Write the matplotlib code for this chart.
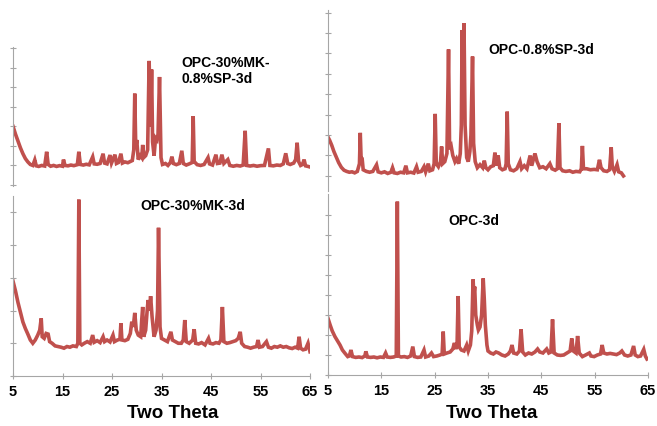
import matplotlib
matplotlib.use('Agg')
import matplotlib.pyplot as plt

plt.rcParams['font.family'] = ['Liberation Sans', 'DejaVu Sans']

# Datos (2 theta, intensidad en unidades arbitrarias)
tl_theta = [5.0, 5.5, 6.0, 6.5, 7.0, 7.5, 8.0, 8.5, 9.0, 9.4, 9.7, 10.2, 10.8, 11.4, 11.8, 12.1,
            12.6, 13.2, 13.8, 14.4, 15.0, 15.2, 15.5, 16.1, 16.7, 17.3, 18.0, 18.3, 18.6, 19.2,
            19.8, 20.4, 21.1, 21.4, 22.0, 22.6, 23.2, 23.5, 24.0, 24.6, 24.9, 25.6, 25.9, 26.3,
            26.8, 27.1, 27.6, 28.2, 28.7, 29.1, 29.4, 29.6, 29.8, 30.0, 30.3, 30.7, 31.0, 31.2,
            31.4, 31.8, 32.2, 32.5, 32.8, 33.0, 33.2, 33.5, 33.8, 34.1, 34.3, 34.6, 34.9, 35.2,
            35.8, 36.3, 36.8, 37.1, 37.4, 38.0, 38.6, 39.1, 39.4, 40.0, 40.6, 41.2, 41.4, 41.6,
            42.2, 42.9, 43.6, 44.4, 44.7, 45.3, 46.0, 46.3, 46.8, 47.2, 47.6, 48.4, 48.8, 49.5,
            50.2, 50.9, 51.5, 51.9, 52.2, 52.9, 53.6, 54.3, 55.0, 55.8, 56.6, 56.9, 57.6, 58.3,
            59.0, 59.6, 60.1, 60.5, 61.0, 61.7, 62.1, 62.4, 62.7, 63.1, 63.5, 63.8, 64.1, 64.6,
            65.0]
tl_int = [300, 260, 225, 190, 160, 135, 118, 105, 100, 128, 98, 95, 100, 97, 170, 105,
          96, 100, 95, 99, 96, 130, 100, 98, 102, 99, 104, 170, 105, 102,
          106, 103, 144, 108, 106, 110, 160, 112, 108, 153, 112, 155, 110, 115,
          160, 112, 118, 114, 120, 125, 180, 467, 190, 230, 130, 150, 140, 205,
          140, 150, 180, 634, 300, 590, 220, 150, 240, 230, 260, 552, 140, 105,
          110, 100, 115, 145, 110, 104, 110, 175, 110, 102, 108, 115, 352, 120,
          104, 100, 105, 140, 108, 102, 155, 110, 112, 155, 110, 130, 100, 96,
          100, 97, 102, 277, 100, 97, 100, 96, 99, 100, 187, 100, 98, 102,
          100, 108, 162, 110, 105, 112, 130, 216, 120, 100, 105, 130, 98, 95,
          92]

tr_theta = [5.0, 5.3, 5.7, 6.1, 6.5, 7.0, 7.5, 8.0, 8.5, 9.0, 9.5, 10.0, 10.5, 10.9, 11.05, 11.2,
            11.4, 11.6, 12.2, 12.8, 13.4, 14.1, 14.4, 15.0, 15.6, 16.2, 16.8, 17.1, 17.4, 18.0,
            18.6, 19.2, 19.6, 19.9, 20.5, 21.1, 21.6, 21.9, 22.5, 23.0, 23.3, 23.8, 24.1, 24.6,
            24.9, 25.1, 25.3, 25.7, 26.1, 26.3, 26.5, 26.9, 27.3, 27.6, 27.8, 28.1, 28.4, 28.8,
            29.1, 29.5, 29.8, 30.0, 30.15, 30.3, 30.5, 30.7, 31.0, 31.3, 31.6, 31.8, 32.1, 32.3,
            32.6, 33.0, 33.5, 34.0, 34.3, 34.6, 35.0, 35.5, 36.0, 36.3, 36.6, 36.9, 37.2, 37.7,
            38.2, 38.4, 38.6, 38.8, 39.2, 39.8, 40.4, 41.0, 41.3, 41.8, 42.3, 42.9, 43.2, 43.8,
            44.2, 44.7, 45.3, 45.9, 46.6, 47.0, 47.6, 48.0, 48.3, 48.5, 49.0, 49.6, 50.3, 50.9,
            51.5, 52.2, 52.5, 52.7, 52.9, 53.5, 54.2, 54.9, 55.5, 55.9, 56.2, 56.7, 57.3, 57.8,
            58.1, 58.3, 58.7, 59.2, 59.5, 60.0, 60.4]
tr_int = [190, 175, 150, 120, 95, 65, 42, 28, 22, 18, 20, 15, 22, 60, 211, 90,
          85, 30, 22, 18, 22, 54, 20, 15, 20, 12, 18, 40, 15, 12,
          18, 15, 50, 15, 18, 14, 45, 18, 22, 45, 20, 60, 25, 30,
          60, 304, 60, 45, 70, 144, 60, 70, 110, 620, 130, 145, 100, 70,
          85, 60, 110, 250, 715, 300, 748, 250, 90, 70, 120, 200, 585, 160,
          70, 40, 55, 40, 75, 40, 30, 45, 50, 114, 50, 100, 40, 30,
          35, 60, 315, 60, 30, 25, 35, 70, 35, 50, 35, 100, 50, 110,
          70, 40, 45, 35, 60, 35, 28, 35, 258, 40, 25, 22, 25, 18,
          22, 20, 35, 147, 35, 35, 30, 32, 30, 79, 40, 25, 22, 30,
          140, 45, 22, 55, 20, 15, 0]

bl_theta = [5.0, 5.5, 6.0, 6.5, 7.0, 7.5, 8.0, 8.5, 9.0, 9.5, 10.0, 10.4, 10.7, 10.9, 11.3, 11.7,
            12.1, 12.4, 12.9, 13.5, 14.1, 14.7, 15.3, 15.9, 16.5, 17.1, 17.8, 18.1, 18.3, 18.5,
            18.9, 19.4, 20.0, 20.6, 21.1, 21.4, 22.0, 22.6, 23.2, 23.5, 24.0, 24.6, 25.2, 25.5,
            26.1, 26.6, 26.8, 27.0, 27.6, 28.2, 28.7, 29.0, 29.3, 29.6, 29.9, 30.3, 30.8, 31.0,
            31.2, 31.4, 31.8, 32.1, 32.3, 32.6, 32.8, 33.1, 33.5, 33.9, 34.2, 34.4, 34.7, 35.0,
            35.6, 36.2, 36.9, 37.2, 37.8, 38.4, 39.0, 39.4, 39.7, 40.0, 40.6, 41.3, 41.6, 41.9,
            42.5, 43.1, 43.8, 44.5, 44.8, 45.4, 46.0, 46.6, 47.0, 47.3, 47.6, 48.2, 48.8, 49.4,
            50.0, 50.5, 50.9, 51.2, 51.8, 52.4, 53.0, 53.6, 54.2, 54.5, 54.8, 55.4, 56.2, 56.6,
            57.2, 57.8, 58.4, 59.0, 59.6, 60.2, 60.8, 61.4, 62.0, 62.5, 62.8, 63.1, 63.6, 64.1,
            64.6, 65.0]
bl_int = [290, 260, 225, 195, 165, 145, 128, 110, 100, 110, 125, 140, 176, 120, 115, 130,
          128, 105, 100, 92, 90, 88, 85, 90, 88, 92, 90, 100, 539, 100,
          95, 100, 105, 100, 125, 103, 108, 102, 120, 105, 110, 104, 125, 105,
          110, 112, 161, 110, 108, 112, 130, 166, 150, 193, 140, 125, 120, 170,
          211, 120, 140, 200, 232, 200, 244, 180, 120, 140, 200, 453, 150, 115,
          110, 105, 135, 110, 105, 100, 100, 110, 171, 105, 100, 110, 143, 100,
          98, 102, 95, 115, 100, 98, 102, 100, 110, 211, 105, 100, 102, 105,
          108, 115, 135, 100, 90, 88, 85, 88, 90, 110, 88, 90, 105, 88,
          85, 90, 88, 92, 88, 90, 86, 84, 88, 85, 120, 85, 80, 82,
          100, 74]

br_theta = [5.0, 5.4, 5.8, 6.3, 6.8, 7.25, 7.7, 8.2, 8.7, 9.0, 9.3, 9.6, 10.2, 10.8, 11.4, 11.9,
            12.1, 12.4, 13.0, 13.6, 14.2, 14.8, 15.4, 15.8, 16.1, 16.7, 17.3, 17.8, 18.0, 18.2,
            18.7, 19.3, 19.9, 20.5, 20.9, 21.2, 21.8, 22.4, 23.0, 23.3, 23.9, 24.4, 24.8, 25.4,
            26.0, 26.4, 26.6, 26.8, 27.3, 27.9, 28.4, 28.7, 29.0, 29.2, 29.4, 29.6, 30.0, 30.5,
            31.0, 31.3, 31.7, 31.95, 32.2, 32.35, 32.5, 32.7, 33.0, 33.2, 33.5, 33.8, 34.1, 34.3,
            34.5, 34.8, 35.0, 35.5, 36.0, 36.5, 37.0, 37.6, 38.2, 38.8, 39.2, 39.5, 39.8, 40.4,
            40.9, 41.2, 41.5, 42.0, 42.6, 43.2, 43.8, 44.3, 44.7, 45.3, 46.0, 46.4, 46.8, 47.1,
            47.4, 48.0, 48.6, 49.2, 49.8, 50.4, 50.7, 51.0, 51.5, 51.8, 52.1, 52.7, 53.3, 54.0,
            54.3, 54.9, 55.5, 56.1, 56.4, 56.7, 57.3, 57.9, 58.5, 59.1, 59.7, 60.1, 60.6, 61.2,
            61.8, 62.3, 62.6, 63.1, 63.6, 64.2, 64.5, 64.8]
br_int = [283, 250, 220, 192, 170, 150, 125, 108, 92, 95, 125, 92, 88, 90, 87, 95,
          118, 90, 88, 90, 86, 90, 88, 110, 90, 88, 90, 95, 867, 95,
          90, 92, 88, 95, 142, 92, 88, 90, 125, 90, 95, 110, 92, 95,
          100, 105, 217, 105, 110, 115, 130, 160, 130, 150, 395, 140, 125, 120,
          150, 120, 150, 220, 478, 400, 442, 300, 250, 225, 240, 300, 483, 380,
          250, 150, 120, 110, 105, 115, 110, 100, 95, 105, 120, 150, 110, 105,
          120, 228, 115, 100, 110, 105, 115, 130, 115, 110, 130, 110, 115, 278,
          110, 100, 98, 100, 110, 120, 183, 120, 110, 195, 110, 92, 100, 110,
          95, 92, 100, 105, 150, 110, 105, 108, 105, 102, 110, 120, 100, 95,
          100, 145, 100, 92, 95, 128, 95, 80]

x_ticks = [5, 15, 25, 35, 45, 55, 65]
labels = ['OPC-30%MK-\n0.8%SP-3d', 'OPC-0.8%SP-3d', 'OPC-30%MK-3d', 'OPC-3d']

line_color = '#c0504d'
axis_color = '#a6a6a6'
W, H = 657, 426

fig = plt.figure(figsize=(6.57, 4.26), dpi=100, facecolor='white')


def px_axes(x0, y_top, x1, y_bot):
    # rectangulo en pixeles de la imagen (origen arriba a la izquierda)
    return fig.add_axes([x0 / W, 1 - y_bot / H, (x1 - x0) / W, (y_bot - y_top) / H])


# Paneles: (x0, y_top, x1, y_bot), ylim, datos, con eje x o no
paneles = [
    ((13, 47, 310, 186), (-5, 705), 700, tl_theta, tl_int, False),
    ((328, 10, 648, 191), (-74, 813), 800, tr_theta, tr_int, False),
    ((13, 196, 310, 376), (0, 550), 500, bl_theta, bl_int, True),
    ((328, 194, 648, 375), (0, 905), 800, br_theta, br_int, True),
]

for rect, ylim, ymax_tick, xs, ys, con_x in paneles:
    ax = px_axes(*rect)
    ax.plot(xs, ys, color=line_color, linewidth=2.6, solid_joinstyle='miter')
    ax.set_xlim(5, 65)
    ax.set_ylim(*ylim)
    ax.set_facecolor('none')
    for s in ['top', 'right']:
        ax.spines[s].set_visible(False)
    ax.spines['left'].set_color(axis_color)
    ax.spines['left'].set_linewidth(0.8)
    ax.set_yticks(range(0, ymax_tick + 1, 100))
    ax.tick_params(axis='y', direction='inout', length=5, width=0.8,
                   color=axis_color, labelleft=False)
    if con_x:
        ax.spines['bottom'].set_color(axis_color)
        ax.spines['bottom'].set_linewidth(0.8)
        ax.set_xticks(x_ticks)
        ax.tick_params(axis='x', direction='inout', length=5, width=0.8,
                       color=axis_color, labelsize=10.5, pad=4)
        for t in ax.get_xticklabels():
            t.set_fontweight('bold')
    else:
        ax.spines['bottom'].set_visible(False)
        ax.set_xticks([])

# Etiquetas de cada muestra
fig.text(181 / W, 1 - 71 / H, labels[0], ha='left', va='center', fontsize=10,
         fontweight='bold', linespacing=1.25)
fig.text(488 / W, 1 - 50 / H, labels[1], ha='left', va='center', fontsize=10, fontweight='bold')
fig.text(140 / W, 1 - 206 / H, labels[2], ha='left', va='center', fontsize=10, fontweight='bold')
fig.text(448 / W, 1 - 221 / H, labels[3], ha='left', va='center', fontsize=10, fontweight='bold')

# Titulos de eje
fig.text(173 / W, 1 - 413 / H, 'Two Theta', ha='center', va='center', fontsize=13.5,
         fontweight='bold')
fig.text(492 / W, 1 - 413 / H, 'Two Theta', ha='center', va='center', fontsize=13.5,
         fontweight='bold')

plt.savefig('out.png', dpi=100, facecolor='white')
